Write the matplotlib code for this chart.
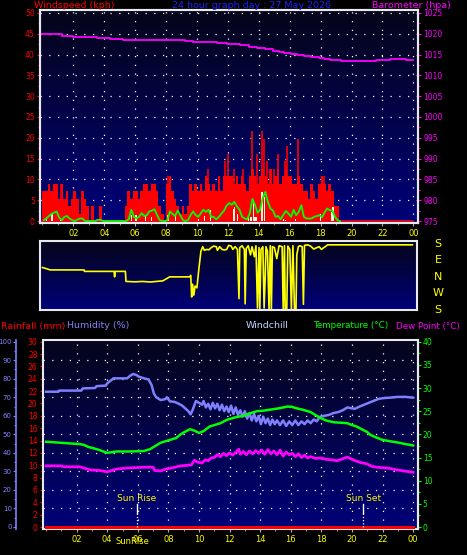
import matplotlib
matplotlib.use('Agg')
import matplotlib.pyplot as plt
import numpy as np
from matplotlib.colors import LinearSegmentedColormap
from matplotlib.ticker import MultipleLocator, FixedLocator
from matplotlib.transforms import blended_transform_factory

W, H = 467, 555

# ---- data (hours since 00:00) ----
# wind gust, kph, 10 minute bins starting 00:00
gust_kph = [7.2, 7.2, 9.0, 7.2, 9.0, 9.0,
            5.4, 9.0, 5.4, 7.2, 3.6, 5.4,
            7.2, 5.4, 1.8, 7.2, 5.4, 3.6,
            0.0, 3.6, 0.0, 0.0, 3.6, 0.0,
            0.0, 0.0, 0.0, 0.0, 0.0, 0.0,
            0.0, 0.0, 3.6, 7.2, 5.4, 7.2,
            7.2, 5.4, 7.2, 9.0, 9.0, 7.2,
            9.0, 9.0, 7.2, 3.6, 1.8, 0.0,
            9.0, 10.8, 7.2, 5.4, 3.6, 1.8,
            3.6, 1.8, 3.6, 9.0, 7.2, 9.0,
            7.2, 9.0, 7.2, 10.8, 9.0, 7.2,
            9.0, 7.2, 10.8, 7.2, 10.8, 10.8,
            10.8, 10.8, 9.0, 10.8, 9.0, 10.8,
            9.0, 7.2, 10.8, 12.6, 10.8, 9.0,
            10.8, 12.6, 10.8, 9.0, 12.6, 9.0,
            10.8, 12.6, 9.0, 10.8, 12.6, 10.8,
            10.8, 9.0, 9.0, 10.8, 9.0, 7.2,
            7.2, 5.4, 9.0, 7.2, 5.4, 9.0,
            10.8, 9.0, 7.2, 9.0, 7.2, 3.6,
            3.6, 0.0, 0.0, 0.0, 0.0, 0.0,
            0.0, 0.0, 0.0, 0.0, 0.0, 0.0,
            0.0, 0.0, 0.0, 0.0, 0.0, 0.0,
            0.0, 0.0, 0.0, 0.0, 0.0, 0.0,
            0.0, 0.0, 0.0, 0.0, 0.0, 0.0]
# tall single gusts
spike_hours = [0.45, 1.2, 8.15, 10.7, 11.78, 12.03, 12.42, 12.95, 13.55, 13.87,
               14.19, 14.32, 14.5, 14.95, 15.27, 15.7, 15.81, 16.56, 18.19]
spike_kph = [9.0, 9.0, 10.8, 12.6, 14.4, 16.2, 12.6, 12.6, 21.6, 16.2,
             21.6, 19.8, 14.4, 12.6, 16.2, 14.4, 18.0, 19.8, 10.8]
# average wind, kph, 10 minute bins
avg_kph = [0.2, 0.6, 1.2, 1.7, 2.0, 2.3,
           0.8, 0.2, 1.0, 1.2, 0.6, 0.2,
           0.0, 0.3, 0.6, 0.6, 0.0, 0.0,
           0.0, 0.0, 0.0, 0.3, 0.3, 0.0,
           0.0, 0.0, 0.0, 0.0, 0.0, 0.0,
           0.0, 0.0, 0.0, 0.4, 2.7, 1.0,
           0.6, 1.0, 1.9, 1.2, 1.4, 2.3,
           2.5, 2.8, 1.4, 0.2, 0.0, 0.0,
           0.2, 2.3, 1.7, 1.2, 2.5, 1.4,
           0.2, 0.0, 0.2, 1.4, 2.3, 1.4,
           1.0, 1.9, 2.7, 2.2, 2.7, 1.0,
           1.0, 0.4, 1.0, 1.8, 2.5, 3.7,
           4.3, 3.9, 4.6, 3.5, 2.7, 1.0,
           0.6, 0.4, 1.9, 5.3, 3.9, 2.0,
           2.7, 5.5, 7.0, 4.6, 3.0, 2.5,
           1.0, 1.2, 0.4, 1.5, 2.4, 1.8,
           1.0, 2.7, 1.4, 2.2, 3.8, 1.0,
           0.6, 0.6, 0.6, 1.0, 1.2, 1.4,
           0.9, 2.0, 3.0, 2.6, 2.5, 1.1,
           0.2, 0.0]
# wind speed (pale bars)
wind_hours = [0.28, 0.62, 1.18, 5.78, 6.05, 6.65, 7.05, 8.12, 8.6, 10.1, 10.5, 10.85,
              12.35, 12.45, 12.6, 13.35, 13.45, 13.55, 13.65, 13.75, 13.85, 14.2, 14.37,
              15.6, 15.72, 16.35, 18.0, 18.7, 18.8]
wind_kph = [1.0, 1.8, 0.3, 1.4, 1.5, 1.3, 1.0, 1.4, 1.3, 0.6, 1.2, 2.6,
            2.8, 3.4, 1.8, 1.0, 1.0, 1.0, 5.0, 1.0, 1.0, 7.0, 5.8,
            0.6, 0.3, 0.6, 1.8, 2.2, 3.4]
baro_hours = [0.0, 1.25, 2.0, 3.5, 4.4, 5.2, 9.2, 9.75, 11.3, 11.95, 12.8, 13.35, 13.9,
              14.4, 14.9, 15.3, 15.6, 16.1, 16.5, 16.9, 17.4, 17.9, 18.2, 18.6, 19.3,
              21.6, 22.5, 23.5, 24.0]
baro_hpa = [1019.9, 1019.5, 1019.2, 1019.0, 1018.7, 1018.4, 1018.2, 1018.0, 1017.7,
            1017.5, 1017.2, 1016.9, 1016.5, 1016.3, 1015.9, 1015.7, 1015.3, 1015.1,
            1014.8, 1014.6, 1014.4, 1014.1, 1013.9, 1013.6, 1013.4, 1013.7, 1013.9,
            1013.6, 1013.6]

# wind direction, degrees east of north (S = +/-180)
dir_hours = [0.0, 0.25, 0.5, 2.7, 2.72, 4.65, 4.68, 4.72, 5.38, 5.42, 6.0, 6.5, 7.0,
             7.5, 7.8, 8.05, 8.25, 9.55, 9.62, 9.68, 9.74, 9.82, 9.9, 10.02, 10.15,
             10.28, 10.4, 10.5, 10.65, 10.8, 10.95, 11.1, 11.28, 11.35, 11.5, 11.65,
             11.8, 11.95, 12.08, 12.25, 12.35, 12.5, 12.65, 12.75, 12.8, 12.95, 13.1,
             13.15, 13.22, 13.35, 13.5, 13.6, 13.75, 13.85, 13.95, 14.05, 14.1, 14.18,
             14.3, 14.38, 14.45, 14.5, 14.6, 14.7, 14.78, 14.85, 14.92, 15.05, 15.2,
             15.35, 15.55, 15.62, 15.7, 15.75, 15.85, 15.92, 16.05, 16.15, 16.25,
             16.35, 16.45, 16.5, 16.6, 16.7, 16.85, 16.93, 17.0, 17.2, 17.4, 17.6,
             17.8, 17.95, 18.1, 18.25, 18.35, 18.5, 24.0]
dir_deg = [51, 45, 38, 38, 30, 30, 0, 30, 30, -25, -27, -25, -28,
           -24, -22, -10, 0, 0, 8, -110, -40, -100, -50, -60, 45,
           140, 165, 145, 150, 148, 160, 168, 165, 145, 165, 150,
           147, 150, 172, 168, 150, 165, 150, -119, 160, 170, 150,
           -147, 155, 170, 120, 165, 110, 170, -170, 160, -175, 150,
           165, -170, -10, 165, 140, -178, 170, -180, 165, 160, 100,
           170, 165, -180, 170, -180, -178, 168, 150, -180, 170,
           -178, -175, 120, 165, 170, 165, -150, 172, 175, 168, 152,
           160, 165, 150, 160, 165, 175, 175]
compass = ['S', 'E', 'N', 'W', 'S']
compass_deg = [180, 90, 0, -90, -180]

# ---- bottom panel ----
hum_hours = [0.0, 0.8, 0.85, 2.3, 2.4, 3.2, 3.3, 3.9, 4.0, 4.3, 4.4, 5.3, 5.5, 5.7, 5.9,
             6.1, 6.5, 6.7, 6.9, 7.05, 7.2, 7.5, 7.8, 7.9, 8.1, 8.4, 8.6, 8.9, 9.1, 9.3,
             9.45, 9.6, 9.8, 10.0, 10.2, 10.3, 10.45, 10.6, 10.75, 10.9, 11.05, 11.2,
             11.35, 11.5, 11.65, 11.8, 11.95, 12.1, 12.25, 12.4, 12.55, 12.7, 12.85,
             13.0, 13.15, 13.3, 13.45, 13.6, 13.75, 13.9, 14.05, 14.2, 14.35, 14.5,
             14.65, 14.8, 14.95, 15.1, 15.3, 15.5, 15.7, 15.9, 16.1, 16.3, 16.5, 16.7,
             16.9, 17.1, 17.3, 17.5, 17.7, 17.9, 18.2, 18.5, 18.8, 19.1, 19.4, 19.7,
             20.0, 20.2, 20.5, 20.8, 21.1, 21.4, 21.7, 22.0, 22.5, 23.0, 23.5, 24.0]
hum_pct = [73.0, 73.0, 73.6, 73.6, 74.8, 75.0, 76.0, 76.3, 77.5, 79.5, 80.2, 80.2, 81.6,
           82.6, 82.0, 81.0, 80.0, 79.6, 76.6, 72.0, 70.0, 68.5, 69.0, 70.0, 67.8, 67.5,
           66.8, 65.5, 64.0, 62.5, 60.8, 63.5, 68.0, 67.0, 66.0, 68.0, 64.5, 66.5, 63.5,
           67.0, 64.0, 66.5, 63.0, 66.0, 62.5, 65.0, 62.0, 65.5, 61.0, 64.5, 60.5, 63.0,
           59.5, 62.5, 58.5, 61.5, 57.5, 61.0, 57.0, 60.0, 55.5, 59.5, 56.0, 58.5, 55.0,
           58.0, 55.5, 57.5, 55.0, 57.5, 54.5, 57.0, 55.0, 57.5, 55.0, 57.0, 55.5, 57.5,
           56.0, 58.0, 57.0, 59.5, 60.0, 60.5, 61.5, 62.0, 63.0, 64.5, 64.0, 63.8, 65.0,
           66.0, 67.0, 68.0, 69.0, 69.5, 69.8, 70.2, 70.2, 69.8]
temp_hours = [0.0, 1.3, 2.2, 2.5, 2.75, 3.1, 3.5, 4.0, 4.4, 4.6, 5.5, 6.4, 6.8, 7.1, 7.5,
              8.1, 8.5, 8.8, 9.0, 9.4, 9.7, 10.0, 10.3, 10.7, 11.0, 11.4, 11.8, 12.0,
              12.4, 12.9, 13.3, 13.8, 14.2, 14.6, 15.2, 15.8, 16.1, 16.4, 16.8, 17.3,
              17.6, 17.9, 18.3, 18.8, 19.3, 19.7, 20.0, 20.3, 20.7, 21.0, 21.2, 21.6,
              22.0, 22.5, 22.9, 23.5, 24.0]
temp_c = [18.4, 18.1, 17.9, 17.7, 17.3, 17.0, 16.6, 16.0, 16.2, 16.3, 16.3, 16.4, 16.8,
          17.4, 18.2, 18.8, 19.2, 20.0, 20.4, 21.1, 20.8, 20.3, 20.7, 21.7, 22.0, 22.4,
          23.1, 23.3, 23.7, 24.0, 24.5, 25.0, 25.1, 25.3, 25.6, 26.0, 25.9, 25.6, 25.3,
          24.8, 24.2, 23.6, 23.0, 22.6, 22.5, 22.4, 22.0, 21.7, 21.0, 20.5, 19.9, 19.3,
          18.8, 18.5, 18.3, 17.9, 17.6]
dew_hours = [0.0, 1.0, 1.1, 2.2, 2.5, 2.9, 3.5, 4.0, 4.3, 4.6, 5.2, 5.7, 6.5, 7.0, 7.1,
             7.5, 7.8, 8.3, 8.8, 9.2, 9.5, 9.7, 9.9, 10.2, 10.4, 10.6, 10.8, 11.0, 11.2,
             11.4, 11.6, 11.8, 12.0, 12.2, 12.4, 12.6, 12.7, 12.9, 13.1, 13.3, 13.5,
             13.7, 13.9, 14.1, 14.3, 14.5, 14.7, 14.9, 15.1, 15.3, 15.5, 15.7, 15.9,
             16.1, 16.3, 16.5, 16.7, 16.9, 17.1, 17.3, 17.6, 18.0, 18.3, 18.7, 19.0,
             19.3, 19.7, 20.0, 20.3, 20.6, 21.0, 21.3, 21.6, 22.0, 22.4, 22.8, 23.2,
             23.6, 24.0]
dew_c = [13.2, 13.2, 13.0, 13.0, 12.7, 12.3, 12.2, 11.9, 12.2, 12.5, 12.7, 12.8, 12.9,
         12.9, 12.2, 12.1, 12.5, 12.8, 13.2, 13.3, 13.4, 14.4, 14.0, 13.8, 14.5, 14.3,
         14.9, 15.0, 15.6, 15.2, 15.9, 15.4, 16.0, 15.5, 16.1, 16.8, 15.7, 16.3, 15.6,
         16.4, 15.8, 16.5, 15.9, 16.6, 15.7, 16.7, 15.8, 16.4, 15.6, 16.6, 15.3, 16.2,
         15.6, 15.9, 15.2, 15.8, 15.0, 15.5, 14.9, 15.2, 14.8, 14.9, 14.6, 14.5, 14.3,
         14.6, 15.1, 14.6, 14.2, 13.9, 13.6, 13.1, 12.9, 12.8, 12.7, 12.4, 12.2, 12.0,
         11.8]
rain_hours = [0.0, 24.0]
rain_mm = [0.0, 0.0]
sunrise, sunset = 5.95, 20.74
hour_ticks = [2, 4, 6, 8, 10, 12, 14, 16, 18, 20, 22, 24]
hour_labels = ['02', '04', '06', '08', '10', '12', '14', '16', '18', '20', '22', '00']

RED, GREEN, MAG, HUM, YEL = '#ff0000', '#00ff00', '#ff00ff', '#8080ff', '#ffff00'
FRAME = '#e8e8f0'
dots = (0, (1, 6))
sky = LinearSegmentedColormap.from_list('sky', ['#00007a', '#05051a'])
TITLE = 6.8


def px_axes(fig, x0, y0, x1, y1):
    return fig.add_axes([x0 / W, 1 - y1 / H, (x1 - x0) / W, (y1 - y0) / H])


def shade(ax, xlim, ylim):
    grad = np.linspace(0, 1, 256).reshape(-1, 1)
    ax.imshow(grad, cmap=sky, origin='lower', extent=[xlim[0], xlim[1], ylim[0], ylim[1]],
              aspect='auto', zorder=0)
    ax.set_xlim(xlim)
    ax.set_ylim(ylim)


def frame(ax, lw=1.5):
    for s in ax.spines.values():
        s.set_color(FRAME)
        s.set_linewidth(lw)


def y_ticks(ax, color, major, minor, size=5.5, pad=1.2):
    ax.yaxis.set_major_locator(MultipleLocator(major))
    ax.yaxis.set_minor_locator(MultipleLocator(minor))
    ax.tick_params(axis='y', which='both', colors=color, labelsize=size, pad=pad, width=0.8)
    ax.tick_params(axis='y', which='major', length=2.5)
    ax.tick_params(axis='y', which='minor', length=1.3)


def hour_axis(ax):
    ax.xaxis.set_major_locator(FixedLocator(hour_ticks))
    ax.set_xticklabels(hour_labels)
    ax.xaxis.set_minor_locator(MultipleLocator(1))
    ax.tick_params(axis='x', which='both', colors='#b0b0b0', labelcolor=YEL, labelsize=6, pad=2)
    ax.tick_params(axis='x', which='major', length=2.5)
    ax.tick_params(axis='x', which='minor', length=1.5)


fig = plt.figure(figsize=(W / 100, H / 100), dpi=100, facecolor='black')

# ---------------- top: windspeed + barometer ----------------
ax = px_axes(fig, 40, 10, 418, 223)
xl = (-0.16, 24.3)
shade(ax, xl, (-0.48, 50.7))
frame(ax)
for v in range(5, 51, 5):
    ax.axhline(v, color='white', lw=0.9, ls=dots, zorder=1)
for h in hour_ticks:
    ax.axvline(h, color='white', lw=0.9, ls=dots, zorder=1)

t10 = np.arange(len(gust_kph)) / 6.0
ax.bar(t10, gust_kph, width=1 / 6.0, align='edge', color=RED, lw=0, zorder=2)
ax.vlines(spike_hours, 0, spike_kph, color=RED, lw=1.2, zorder=2)
ax.plot([0, 24], [0, 0], color=RED, lw=1.2, zorder=2)
ax.bar(wind_hours, wind_kph, width=0.08, color='#e0ffe0', lw=0, zorder=3)
ta = np.arange(len(avg_kph)) / 6.0 + 1 / 12.0
ax.plot(ta, avg_kph, color=GREEN, lw=1.3, zorder=4)
y_ticks(ax, RED, 5, 2.5)
hour_axis(ax)

axb = ax.twinx()
axb.set_ylim(975 - 0.48, 1025.7)
axb.step(baro_hours, baro_hpa, where='post', color=MAG, lw=1.3, zorder=5)
y_ticks(axb, MAG, 5, 2.5)
frame(axb)
axb.set_xlim(xl)

fig.text(34 / W, 1 - 5 / H, 'Windspeed (kph)', color=RED, fontsize=TITLE, va='center')
fig.text(172 / W, 1 - 5 / H, '24 hour graph day : 27 May 2026', color='#2020ff', fontsize=TITLE, va='center')
fig.text(372 / W, 1 - 5 / H, 'Barometer (hpa)', color=MAG, fontsize=TITLE, va='center')

# ---------------- middle: wind direction ----------------
axd = px_axes(fig, 40, 241, 417, 310)
shade(axd, xl, (-181, 196))
frame(axd)
axd.plot(dir_hours, dir_deg, color=YEL, lw=1.2, zorder=2)
axd.set_xticks([])
axd.set_yticks([])
tr = blended_transform_factory(fig.transFigure, axd.transData)
for lab, d in zip(compass, compass_deg):
    axd.text(438 / W, d, lab, transform=tr, color=YEL, fontsize=8, ha='center', va='center')

# ---------------- bottom: rain, humidity, temperature ----------------
axr = px_axes(fig, 42.7, 340, 417.7, 529)
xb = (-0.22, 24.3)
shade(axr, xb, (-0.32, 30.27))
frame(axr)
for v in range(3, 30, 3):
    axr.axhline(v, color='white', lw=0.9, ls=dots, zorder=1)
for h in hour_ticks:
    axr.axvline(h, color='white', lw=0.9, ls=dots, zorder=1)
axr.plot(rain_hours, rain_mm, color=RED, lw=2.2, zorder=3)
y_ticks(axr, RED, 2, 1)
hour_axis(axr)

# sun rise / set markers
for hh, lab in [(sunrise, 'Sun Rise'), (sunset, 'Sun Set')]:
    axr.plot([hh, hh], [2.26, 3.7], color='white', lw=1.0, zorder=4)
    axr.plot([hh, hh], [0, 2.26], color='white', lw=0.9, ls=(0, (1, 1.5)), zorder=4)
    axr.text(hh, 4.65, lab, color=YEL, fontsize=6.5, ha='center', va='center', zorder=4)
fig.text(132 / W, 1 - 541 / H, 'SunRise', color=YEL, fontsize=6, ha='center', va='center')

axh = axr.twinx()
axh.set_ylim(-1.08, 100.9)
axh.set_xlim(xb)
axh.plot(hum_hours, hum_pct, color=HUM, lw=1.8, zorder=3)
axh.yaxis.set_ticks_position('left')
axh.yaxis.set_label_position('left')
for s in axh.spines.values():
    s.set_visible(False)
axh.spines['left'].set_visible(True)
axh.spines['left'].set_position(('outward', 19))
axh.spines['left'].set_color(HUM)
axh.spines['left'].set_linewidth(1.2)
y_ticks(axh, HUM, 10, 5, size=5.0, pad=0.8)

axt = axr.twinx()
axt.set_ylim(-0.43, 40.36)
axt.set_xlim(xb)
axt.plot(temp_hours, temp_c, color=GREEN, lw=1.8, zorder=3)
axt.plot(dew_hours, dew_c, color=MAG, lw=2.0, zorder=3)
for s in axt.spines.values():
    s.set_visible(False)
axt.spines['right'].set_visible(True)
axt.spines['right'].set_color(FRAME)
axt.spines['right'].set_linewidth(1.5)
y_ticks(axt, GREEN, 5, 2.5)

yt = 1 - 326 / H
fig.text(1 / W, yt, 'Rainfall (mm)', color=RED, fontsize=TITLE, va='center')
fig.text(67 / W, yt, 'Humidity (%)', color=HUM, fontsize=TITLE, va='center')
fig.text(246 / W, yt, 'Windchill', color='#c0d0ff', fontsize=TITLE, va='center')
fig.text(313 / W, yt, 'Temperature (\u00b0C)', color=GREEN, fontsize=6.3, va='center')
fig.text(396 / W, yt, 'Dew Point (\u00b0C)', color=MAG, fontsize=6.3, va='center')

fig.savefig('out.png', dpi=100, facecolor='black')
